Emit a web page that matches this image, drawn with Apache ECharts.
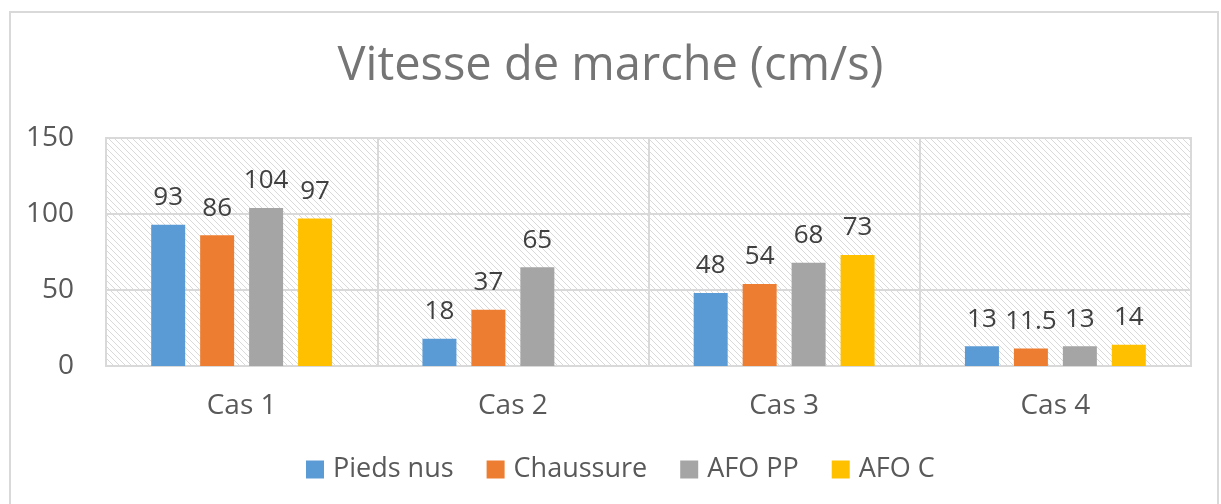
<!DOCTYPE html>
<html>
<head>
<meta charset="utf-8">
<script src="https://cdn.jsdelivr.net/npm/echarts@6/dist/echarts.min.js"></script>
<style>html,body{margin:0;padding:0;background:#fff}#c{width:1221px;height:504px}</style>
</head>
<body>
<div id="c"></div>
<script>
const categories = ['Cas 1', 'Cas 2', 'Cas 3', 'Cas 4'];
const piedsNus = [93, 18, 48, 13];
const chaussure = [86, 37, 54, 11.5];
const afoPP = [104, 65, 68, 13];
const afoC = [97, null, 73, 14];
const seriesNames = ['Pieds nus', 'Chaussure', 'AFO PP', 'AFO C'];
const colors = ['#5b9bd5', '#ed7d31', '#a5a5a5', '#ffc000'];
const yTicks = [0, 50, 100, 150];

const FONT = 'Open Sans';

// hatch pattern
const pc = document.createElement('canvas');
pc.width = 6; pc.height = 6;
const px = pc.getContext('2d');
px.fillStyle = '#ffffff';
px.fillRect(0, 0, 6, 6);
px.strokeStyle = '#d9d9d9';
px.lineWidth = 1;
px.beginPath();
px.moveTo(-1, -1); px.lineTo(7, 7);
px.moveTo(-1, 5); px.lineTo(1, 7);
px.moveTo(5, -1); px.lineTo(7, 1);
px.stroke();

const chart = echarts.init(document.getElementById('c'), null, {renderer: 'canvas'});
const dataSeries = [piedsNus, chaussure, afoPP, afoC];
chart.setOption({
  animation: false,
  title: {
    text: 'Vitesse de marche (cm/s)',
    left: 'center',
    top: 38,
    textStyle: {fontFamily: FONT, fontSize: 47, fontWeight: 'normal', color: '#757575'}
  },
  graphic: [{
    type: 'rect', silent: true, z: -10,
    shape: {x: 10, y: 12, width: 1208, height: 520},
    style: {fill: 'none', stroke: '#d9d9d9', lineWidth: 2}
  }],
  legend: {
    data: seriesNames,
    top: 456,
    left: 306,
    padding: 0,
    itemWidth: 18, itemHeight: 18, itemGap: 33,
    icon: 'rect',
    textStyle: {fontFamily: FONT, fontSize: 27, color: '#595959', padding: [0, 0, 0, 4]}
  },
  grid: {
    left: 106, right: 30, top: 138, bottom: 138,
    show: true,
    backgroundColor: {image: pc, repeat: 'repeat'},
    borderColor: '#d9d9d9', borderWidth: 2
  },
  xAxis: {
    type: 'category',
    data: categories,
    axisLine: {show: true, lineStyle: {color: '#d9d9d9', width: 2}},
    axisTick: {show: false},
    splitLine: {show: true, lineStyle: {color: '#d9d9d9', width: 2}},
    axisLabel: {fontFamily: FONT, fontSize: 28, color: '#595959', margin: 26}
  },
  yAxis: {
    type: 'value',
    min: 0, max: 150, interval: 50,
    axisLine: {show: false},
    axisTick: {show: false},
    splitLine: {lineStyle: {color: '#d9d9d9', width: 2}},
    axisLabel: {fontFamily: FONT, fontSize: 28, color: '#595959', margin: 32,
      formatter: v => yTicks.includes(v) ? String(v) : ''}
  },
  series: dataSeries.map((d, i) => ({
    name: seriesNames[i],
    type: 'bar',
    data: d,
    barWidth: 34,
    barGap: '44%',
    itemStyle: {color: colors[i]},
    label: {
      show: true, position: 'top', distance: 14,
      fontFamily: FONT, fontSize: 26, color: '#404040'
    }
  }))
});
</script>
</body>
</html>
